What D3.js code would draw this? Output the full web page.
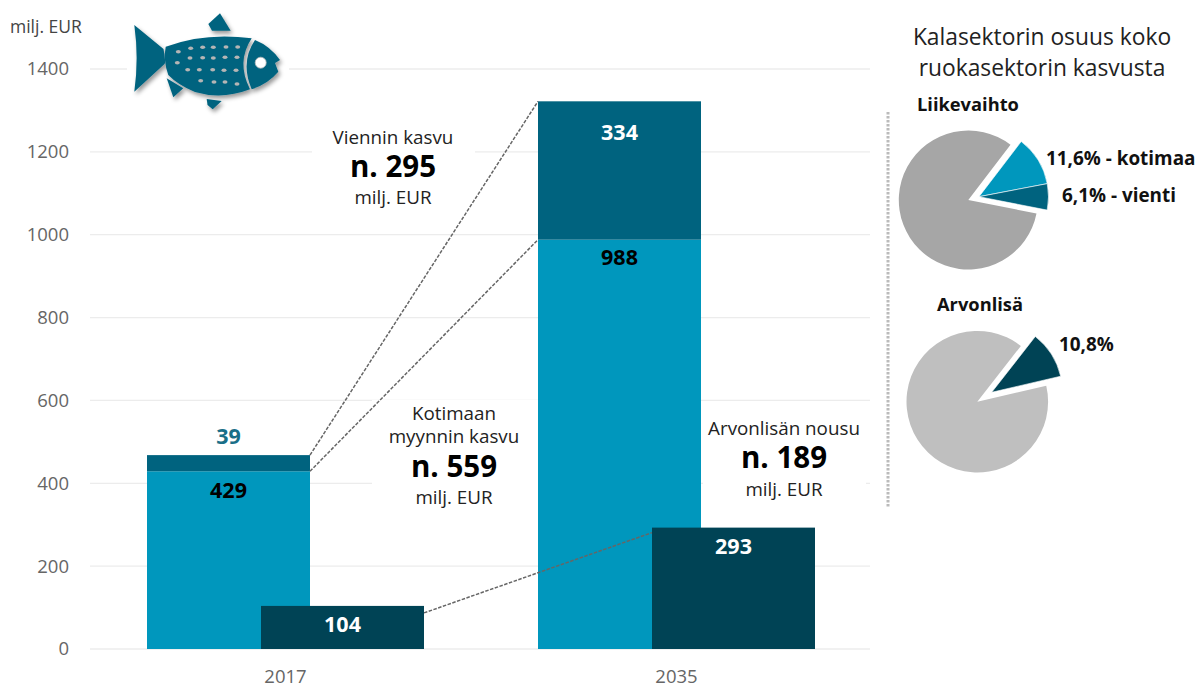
<!DOCTYPE html>
<html>
<head>
<meta charset="utf-8">
<script src="https://cdn.jsdelivr.net/npm/d3@7/dist/d3.min.js"></script>
<style>
  html, body { margin: 0; background: #fff; }
  svg { display: block; font-family: "Open Sans", sans-serif; }
</style>
</head>
<body>
<svg width="1200" height="686"></svg>
<script>
// Data
var years = ["2017", "2035"];
var domestic = [429, 988];
var exports_ = [39, 334];
var valueAdded = [104, 293];
var yTicks = [0, 200, 400, 600, 800, 1000, 1200, 1400];

var turnoverShares = [11.6, 6.1];
var turnoverLabels = ["11,6% - kotimaa", "6,1% - vienti"];
var valueShares = [10.8];
var valueLabels = ["10,8%"];

var svg = d3.select("svg");

var colDomestic = "#0097bd", colExport = "#00637f", colValue = "#004355";

var x = d3.scaleBand().domain(years).range([90, 872]);
var y = d3.scaleLinear().domain([0, 1400]).range([649, 69]);
var barW = 163, shift = 57;

// Grid and axis labels
svg.append("g").selectAll("line")
    .data(yTicks)
    .enter().append("line")
    .attr("x1", 90).attr("x2", 870)
    .attr("y1", function (d) { return y(d); })
    .attr("y2", function (d) { return y(d); })
    .attr("stroke", "#ececec")
    .attr("stroke-width", 1.3);

svg.append("g").selectAll("text")
    .data(yTicks)
    .enter().append("text")
    .attr("x", 69)
    .attr("y", function (d) { return y(d); })
    .attr("dy", ".35em")
    .attr("text-anchor", "end")
    .attr("font-size", 18.5)
    .attr("fill", "#666")
    .text(function (d) { return d; });

svg.append("text").attr("x", 10).attr("y", 33)
    .attr("font-size", 17.5).attr("fill", "#444").text("milj. EUR");

svg.append("g").selectAll("text")
    .data(years)
    .enter().append("text")
    .attr("x", function (d) { return x(d) + x.bandwidth() / 2; })
    .attr("y", 677)
    .attr("dy", ".35em")
    .attr("text-anchor", "middle")
    .attr("font-size", 18.5)
    .attr("fill", "#666")
    .text(function (d) { return d; });

// white patches behind the callouts, they cut the grid
var patches = [[312, 125, 163, 90], [372, 400, 166, 112], [703, 415, 163, 90]];
svg.append("g").selectAll("rect")
    .data(patches)
    .enter().append("rect")
    .attr("x", function (d) { return d[0]; })
    .attr("y", function (d) { return d[1]; })
    .attr("width", function (d) { return d[2]; })
    .attr("height", function (d) { return d[3]; })
    .attr("fill", "#fff");

// Stacked bars
years.forEach(function (yr, i) {
    var cx = x(yr) + x.bandwidth() / 2;
    svg.append("rect")
        .attr("x", cx - shift - barW / 2).attr("width", barW)
        .attr("y", y(domestic[i])).attr("height", y(0) - y(domestic[i]))
        .attr("fill", colDomestic);
    svg.append("rect")
        .attr("x", cx - shift - barW / 2).attr("width", barW)
        .attr("y", y(domestic[i] + exports_[i])).attr("height", y(0) - y(exports_[i]))
        .attr("fill", colExport);
});

// Connectors
var cx0 = x(years[0]) + x.bandwidth() / 2, cx1 = x(years[1]) + x.bandwidth() / 2;
var connectors = [
    [cx0 - shift + barW / 2, y(domestic[0] + exports_[0]), cx1 - shift - barW / 2, y(domestic[1] + exports_[1])],
    [cx0 - shift + barW / 2, y(domestic[0]), cx1 - shift - barW / 2, y(domestic[1])],
    [cx0 + shift + barW / 2, y(valueAdded[0]) + 7, cx1 + shift - barW / 2, y(valueAdded[1]) + 5]
];
svg.append("g").selectAll("line")
    .data(connectors)
    .enter().append("line")
    .attr("x1", function (d) { return d[0]; })
    .attr("y1", function (d) { return d[1]; })
    .attr("x2", function (d) { return d[2]; })
    .attr("y2", function (d) { return d[3]; })
    .attr("stroke", "#666")
    .attr("stroke-width", 1.5)
    .attr("stroke-dasharray", "3.5 1.5");

// Value added bars
years.forEach(function (yr, i) {
    var cx = x(yr) + x.bandwidth() / 2;
    svg.append("rect")
        .attr("x", cx + shift - barW / 2).attr("width", barW)
        .attr("y", y(valueAdded[i])).attr("height", y(0) - y(valueAdded[i]))
        .attr("fill", colValue);
});

// Bar labels
function barLabel(px, py, txt, col) {
    svg.append("text").attr("x", px).attr("y", py).attr("dy", ".35em")
        .attr("text-anchor", "middle").attr("font-size", 21.5).attr("font-weight", 700)
        .attr("fill", col).text(txt);
}
barLabel(cx0 - shift, y(domestic[0] + exports_[0]) - 19, exports_[0], "#1a6f88");
barLabel(cx0 - shift, y(domestic[0]) + 19, domestic[0], "#000");
barLabel(cx0 + shift, y(valueAdded[0]) + 19, valueAdded[0], "#fff");
barLabel(cx1 - shift, y(domestic[1] + exports_[1]) + 31, exports_[1], "#fff");
barLabel(cx1 - shift, y(domestic[1]) + 18, domestic[1], "#000");
barLabel(cx1 + shift, y(valueAdded[1]) + 19, valueAdded[1], "#fff");

// Callouts
function callout(px, lines) {
    lines.forEach(function (l) {
        svg.append("text").attr("x", px).attr("y", l[1]).attr("dy", ".35em")
            .attr("text-anchor", "middle")
            .attr("font-size", l[2] ? 29.5 : 18.8)
            .attr("font-weight", l[2] ? 700 : 400)
            .attr("fill", l[2] ? "#000" : "#222")
            .text(l[0]);
    });
}
callout(393, [["Viennin kasvu", 137], ["n. 295", 167, true], ["milj. EUR", 197]]);
callout(454, [["Kotimaan", 413], ["myynnin kasvu", 436], ["n. 559", 467, true], ["milj. EUR", 497]]);
callout(784, [["Arvonlisän nousu", 428], ["n. 189", 458, true], ["milj. EUR", 489]]);

// Right panel
svg.append("text").attr("x", 1042).attr("y", 37).attr("dy", ".35em").attr("text-anchor", "middle")
    .attr("font-size", 22.8).attr("fill", "#222").text("Kalasektorin osuus koko");
svg.append("text").attr("x", 1042).attr("y", 68).attr("dy", ".35em").attr("text-anchor", "middle")
    .attr("font-size", 22.8).attr("fill", "#222").text("ruokasektorin kasvusta");

svg.append("line").attr("x1", 888).attr("x2", 888).attr("y1", 112).attr("y2", 508)
    .attr("stroke", "#bbb").attr("stroke-width", 3).attr("stroke-dasharray", "2.5 1.5");

function drawPie(cx, cy, r, shares, cols, restCol, startDeg, dx, dy) {
    var start = startDeg * Math.PI / 180;
    var rest = 100 - d3.sum(shares);
    var arcs = d3.pie().sort(null).startAngle(start).endAngle(start + 2 * Math.PI)(shares.concat([rest]));
    var arc = d3.arc().innerRadius(0).outerRadius(r);
    svg.append("g").attr("transform", "translate(" + cx + "," + cy + ")")
        .selectAll("path")
        .data(arcs)
        .enter().append("path")
        .attr("d", arc)
        .attr("transform", function (d, i) { return i < shares.length ? "translate(" + dx + "," + dy + ")" : null; })
        .attr("fill", function (d, i) { return i < shares.length ? cols[i] : restCol; })
        .attr("stroke", function (d, i) { return i < shares.length ? "#fff" : "none"; })
        .attr("stroke-width", 0.6);
}
drawPie(968.3, 200, 69.5, turnoverShares, [colDomestic, colExport], "#a6a6a6", 37.4, 10.7, -3.3);
drawPie(977.3, 401.7, 70.8, valueShares, [colValue], "#bfbfbf", 38, 14.4, -9.4);

function sideLabel(px, py, txt, size) {
    svg.append("text").attr("x", px).attr("y", py).attr("dy", ".35em")
        .attr("font-size", size).attr("font-weight", 700).attr("fill", "#111").text(txt);
}
sideLabel(917, 105, "Liikevaihto", 18.3);
sideLabel(937, 305, "Arvonlisä", 18.3);
sideLabel(1046, 158, turnoverLabels[0], 18.9);
sideLabel(1062, 195, turnoverLabels[1], 18.9);
sideLabel(1059, 344, valueLabels[0], 18.9);

// Fish icon, hand traced
var defs = svg.append("defs");
var shadow = defs.append("filter").attr("id", "shadow")
    .attr("x", "-20%").attr("y", "-20%").attr("width", "140%").attr("height", "140%");
shadow.append("feDropShadow").attr("dx", 2).attr("dy", 3).attr("stdDeviation", 2)
    .attr("flood-color", "#000").attr("flood-opacity", 0.4);

// white halo cuts the grid line under the fish
svg.append("rect").attr("x", 127).attr("y", 55).attr("width", 162).attr("height", 28).attr("fill", "#fff");

var fishParts = [
    "M134.3,25 L163.5,49 Q166,63 164.5,64 L134.3,91.7 Q139,58 134.3,25Z",
    "M165.7,46.7 Q205,32 251.7,38.3 Q236,62 250,89.3 Q222,100 195,92 Q178,85 168.3,75 Q163,60 165.7,46.7Z",
    "M255,40 Q270,46 280,60 L275,63 L278.3,71.7 Q268,84 251.7,89.3 Q240,62 255,40Z",
    "M208.3,24 L220,13.3 L230.7,30.7 L212,30.7Z",
    "M166.7,78.3 L183.3,88.3 L173.3,97.3Z",
    "M206.7,99 L221.7,101 L212.7,109.3 L207.5,105Z"
];
var fish = svg.append("g").attr("filter", "url(#shadow)");
fish.selectAll("path").data(fishParts).enter().append("path")
    .attr("d", function (d) { return d; }).attr("fill", "#00637f");

var fishDots = [
    [178.3, 51.7], [190.7, 48.3], [202.7, 47.3], [213.3, 47.3], [226, 47], [237.7, 47],
    [177.3, 62.7], [190, 58], [202.7, 57.7], [213.3, 58], [225, 57.3], [237, 57.3],
    [187.7, 69.7], [199.3, 69.7], [212.7, 69.7], [224, 70.3], [236, 70.3],
    [200.7, 80.7], [214, 82], [225, 82], [237, 84]
];
svg.append("g").selectAll("ellipse").data(fishDots).enter().append("ellipse")
    .attr("cx", function (d) { return d[0]; }).attr("cy", function (d) { return d[1]; })
    .attr("rx", 2.5).attr("ry", 1.7).attr("fill", "#b5b5b5");
svg.append("circle").attr("cx", 260.7).attr("cy", 62.7).attr("r", 5.5)
    .attr("fill", "#fff").attr("stroke", "#bbb").attr("stroke-width", 0.8);
</script>
</body>
</html>
